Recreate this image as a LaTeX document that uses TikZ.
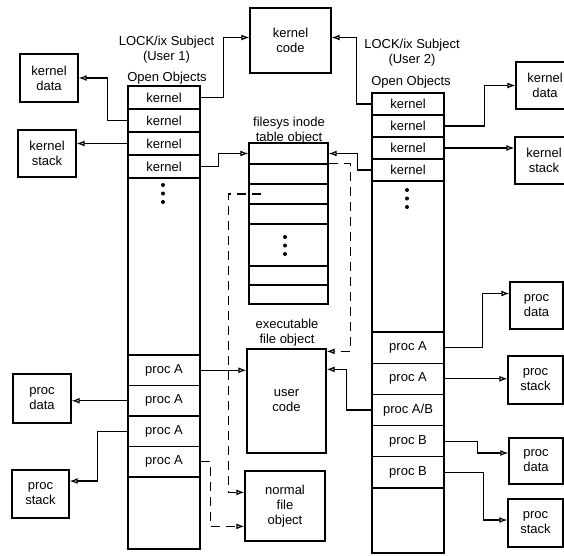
\documentclass[tikz,border=0pt]{standalone}
\usepackage{fontspec}
\setmainfont{Liberation Sans}
\usetikzlibrary{arrows.meta}
\tikzset{%
		fach/.style={draw,line width=1.3pt,minimum width=72pt,inner sep=0pt},
		kasten/.style={draw,line width=1.3pt,align=center,inner sep=0pt},
		zeiger/.style={draw,line width=1.2pt,-{Latex[open,length=8pt,width=6pt]}},
		strich/.style={zeiger,dash pattern=on 9pt off 6pt}
	}
\newcommand{\punkte}[2]{
		\begin{scope}[shift={(#1,#2)}]
			\fill (0,0) circle (2pt) (0,8.5) circle (2pt) (0,17) circle (2pt);
		\end{scope}
		}
\begin{document}
\begin{tikzpicture}[x=1pt,y=-1pt,font=\fontsize{13}{15}\selectfont]
      \useasboundingbox (0,0) rectangle (564,555);
      \clip (0,0) rectangle (564,555);

      \node[align=center] (titel1) at (166.5,50) {LOCK/ix Subject\\(User 1)};
      \node (offen1) at (167,78) {Open Objects};
      \node[align=center] (titel2) at (412,52.5) {LOCK/ix Subject\\(User 2)};
      \node (offen2) at (411,82) {Open Objects};

      \draw[line width=1.3pt] (128,86) rectangle (200,549);
      \draw[line width=1.3pt] (372,93) rectangle (444,553);

      \foreach \i/\yy in {1/97.5,2/120.5,3/143.5,4/166.5}
        \node[fach,minimum height=23pt] (u1k\i) at (164,\yy) {kernel};
      \foreach \i/\yy in {1/104,2/126,3/148,4/170}
        \node[fach,minimum height=22pt] (u2k\i) at (408,\yy) {kernel};
      \foreach \i/\yy in {1/370.25,2/400.75,3/431.25,4/461.75}
        \node[fach,minimum height=30.5pt] (u1p\i) at (164,\yy) {proc A};
      \foreach \i/\yy/\txt in {1/347.6/{proc A},2/378.8/{proc A},3/410/{proc A/B},4/441.2/{proc B},5/472.4/{proc B}}
        \node[fach,minimum height=31.2pt] (u2p\i) at (408,\yy) {\txt};
      \punkte{163}{185}
      \punkte{407}{190}

      \node[align=center] (itlabel) at (289,131) {filesys inode\\table object};
      \foreach \i/\yy/\hh in {1/153.5/21,2/174/20,3/194/20,4/214/20,5/245/42,6/275.5/19,7/294.5/19}
        \node[fach,minimum width=79pt,minimum height=\hh pt] (it\i) at (288.5,\yy) {};
      \punkte{285}{237}

      \node[kasten,minimum width=81pt,minimum height=65pt] (kcode) at (290.5,40.5) {kernel\\code};
      \node[kasten,minimum width=58pt,minimum height=48pt] (kdata1) at (49,78) {kernel\\data};
      \node[kasten,minimum width=58pt,minimum height=47pt] (kstack1) at (47,153.5) {kernel\\stack};
      \node[kasten,minimum width=58pt,minimum height=47pt] (kdata2) at (545,85.5) {kernel\\data};
      \node[kasten,minimum width=58pt,minimum height=47pt] (kstack2) at (544,160.5) {kernel\\stack};
      \node[kasten,minimum width=58pt,minimum height=49pt] (pdata1) at (42,398.5) {proc\\data};
      \node[kasten,minimum width=57pt,minimum height=48pt] (pstack1) at (40.5,494) {proc\\stack};
      \node[kasten,minimum width=53pt,minimum height=47pt] (pdata2) at (536.5,305.5) {proc\\data};
      \node[kasten,minimum width=55pt,minimum height=48pt] (pstack2) at (535.5,380) {proc\\stack};
      \node[kasten,minimum width=54pt,minimum height=46pt] (pdata3) at (536,461) {proc\\data};
      \node[kasten,minimum width=55pt,minimum height=48pt] (pstack3) at (535.5,523) {proc\\stack};

      \node[align=center] (exlabel) at (287,332.5) {executable\\file object};
      \node[kasten,minimum width=79pt,minimum height=104pt] (ucode) at (286.5,401) {user\\code};
      \node[kasten,minimum width=80pt,minimum height=70pt] (nfile) at (285,506) {normal\\file\\object};

      \draw[zeiger] (u1k1.east) -- ++(23,0) |- ([yshift=3pt]kcode.west);
      \draw[zeiger] (u2k1.west) -- ++(-15,0) |- ([yshift=3pt]kcode.east);
      \draw[zeiger] (u1k2.west) -- ++(-20,0) |- (kdata1.east);
      \draw[zeiger] (u1k3.west) -- (u1k3.west -| kstack1.east);
      \draw[zeiger] (u1k4.east) -- ++(18,0) |- (it1.west);
      \draw[zeiger] (u2k4.west) -- ++(-14,0) |- (it1.east);
      \draw[zeiger] (u2k2.east) -- ++(40,0) |- (kdata2.west);
      \draw[zeiger] (u2k3.east) -- (u2k3.east -| kstack2.west);

      \draw[strich] ([yshift=1pt]it1.south east) -- ++(22,0) |- ([yshift=-3pt]ucode.north east);
      \draw[strich] ([xshift=13pt]it3.west) -- ++(-33,0) |- ([yshift=-22pt]nfile.north west);
      \draw[strich] (u1p4.east) -- ++(10,0) |- ([yshift=-56pt]nfile.north west);

      \draw[zeiger] (u1p1.east) -- (u1p1.east -| ucode.west);
      \draw[zeiger] (u1p2.west) -- (u1p2.west -| pdata1.east);
      \draw[zeiger] (u1p3.west) -- ++(-30,0) |- ([yshift=13pt]pstack1.east);
      \draw[zeiger] (u2p1.east) -- ++(38,0) |- ([yshift=12pt]pdata2.west);
      \draw[zeiger] (u2p2.east) -- (u2p2.east -| pstack2.west);
      \draw[zeiger] (u2p3.west) -- ++(-25,0) |- ([yshift=-21pt]ucode.north east);
      \draw[zeiger] (u2p4.east) -- ++(33,0) |- ([yshift=8pt]pdata3.west);
      \draw[zeiger] (u2p5.east) -- ++(39,0) |- ([yshift=3pt]pstack3.west);
	\end{tikzpicture}
\end{document}
